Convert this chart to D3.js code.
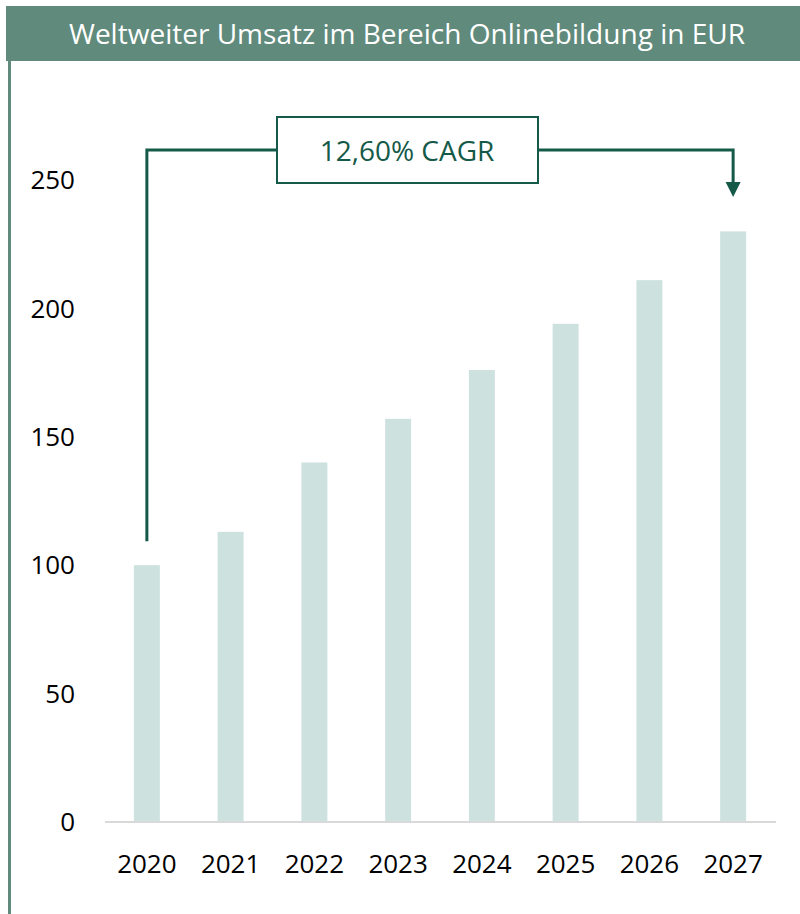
<!DOCTYPE html>
<html>
<head>
<meta charset="utf-8">
<script src="https://cdn.jsdelivr.net/npm/d3@7"></script>
<style>
  body { margin: 0; background: #fff; }
  text { font-family: "Open Sans", "Noto Sans", sans-serif; }
</style>
</head>
<body>
<script>
var years = ['2020', '2021', '2022', '2023', '2024', '2025', '2026', '2027'];
var revenue = [100, 113, 140, 157, 176, 194, 211, 230];
var yTicks = [0, 50, 100, 150, 200, 250];
var title = 'Weltweiter Umsatz im Bereich Onlinebildung in EUR';
var cagrLabel = '12,60% CAGR';

var width = 800, height = 914;
var headerColor = '#5f8a7c',
    darkGreen = '#155a48',
    barColor = '#cde1df';

var svg = d3.select('body').append('svg')
    .attr('width', width)
    .attr('height', height);

// header bar + left border
svg.append('rect')
    .attr('x', 6).attr('y', 6)
    .attr('width', width - 6).attr('height', 55)
    .attr('fill', headerColor);

svg.append('rect')
    .attr('x', 8).attr('y', 61)
    .attr('width', 3).attr('height', height - 61)
    .attr('fill', headerColor);

svg.append('text')
    .attr('x', 407).attr('y', 44)
    .attr('text-anchor', 'middle')
    .attr('fill', '#fff')
    .attr('font-size', '27px')
    .attr('textLength', 676)
    .attr('lengthAdjust', 'spacingAndGlyphs')
    .text(title);

var x = d3.scaleBand()
    .domain(years)
    .range([105, 775])
    .paddingInner(0.69)
    .paddingOuter(0.345);

var y = d3.scaleLinear()
    .domain([0, 250])
    .range([822, 180]);

// bars
svg.selectAll('.bar')
    .data(years)
    .enter().append('rect')
    .attr('class', 'bar')
    .attr('x', function(d) { return x(d); })
    .attr('y', function(d, i) { return y(revenue[i]); })
    .attr('width', x.bandwidth())
    .attr('height', function(d, i) { return y(0) - y(revenue[i]); })
    .attr('fill', barColor);

// baseline
svg.append('line')
    .attr('x1', 105).attr('x2', 776)
    .attr('y1', y(0)).attr('y2', y(0))
    .attr('stroke', '#d9d9d9')
    .attr('stroke-width', 2);

// y tick labels
svg.selectAll('.ytick')
    .data(yTicks)
    .enter().append('text')
    .attr('class', 'ytick')
    .attr('x', 75)
    .attr('y', function(d) { return y(d); })
    .attr('dy', '0.35em')
    .attr('text-anchor', 'end')
    .attr('font-size', '26px')
    .attr('fill', '#000')
    .text(function(d) { return d; });

// x tick labels
svg.selectAll('.xtick')
    .data(years)
    .enter().append('text')
    .attr('class', 'xtick')
    .attr('x', function(d) { return x(d) + x.bandwidth() / 2; })
    .attr('y', 873)
    .attr('text-anchor', 'middle')
    .attr('font-size', '26px')
    .attr('fill', '#000')
    .text(function(d) { return d; });

// CAGR connector
var first = years[0], last = years[years.length - 1];
var x0 = x(first) + x.bandwidth() / 2,
    x1 = x(last) + x.bandwidth() / 2,
    lineY = 150;

svg.append('path')
    .attr('d', 'M' + x0 + ',' + (y(revenue[0]) - 24) + 'V' + lineY + 'H' + x1 + 'V' + 184)
    .attr('fill', 'none')
    .attr('stroke', darkGreen)
    .attr('stroke-width', 3);

svg.append('path')
    .attr('d', 'M' + (x1 - 7.5) + ',182L' + (x1 + 7.5) + ',182L' + x1 + ',197Z')
    .attr('fill', darkGreen);

svg.append('rect')
    .attr('x', 277).attr('y', 117)
    .attr('width', 261).attr('height', 66)
    .attr('fill', '#fff')
    .attr('stroke', darkGreen)
    .attr('stroke-width', 2);

svg.append('text')
    .attr('x', 407).attr('y', 151)
    .attr('dy', '0.35em')
    .attr('text-anchor', 'middle')
    .attr('font-size', '28px')
    .attr('fill', darkGreen)
    .text(cagrLabel);
</script>
</body>
</html>
